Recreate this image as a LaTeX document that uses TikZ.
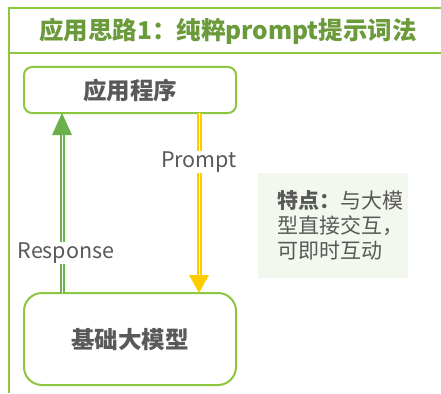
\documentclass[tikz,border=0pt]{standalone}
\usepackage{fontspec}
\setmainfont{Noto Sans CJK SC}
\usetikzlibrary{arrows.meta}
\definecolor{tgreen}{HTML}{6A9A3A}
\definecolor{bgreen}{HTML}{8DC63F}
\definecolor{agreen}{HTML}{6AB04C}
\definecolor{ayellow}{HTML}{FFCC00}
\definecolor{tgray}{HTML}{595959}
\definecolor{fgreen}{HTML}{F3F8EE}
\tikzset{
  stepbox/.style={draw=bgreen, line width=2pt, rounded corners=8pt, fill=white},
  boxtext/.style={text=tgray, font=\bfseries\fontsize{23.5}{26}\selectfont},
  lbl/.style={text=tgray, fill=white, font=\fontsize{21.5}{23}\selectfont, inner sep=1pt},
}
\begin{document}
\begin{tikzpicture}[x=1pt,y=-1pt]
\useasboundingbox (0,0) rectangle (441,393);
\begin{scope}
\clip (0,0) rectangle (441,393);
\draw[draw=bgreen, line width=2pt, fill=white] (9,8) rectangle (450,53);
\end{scope}
\draw[draw=bgreen, line width=1.5pt] (9,53) -- (9,393);
\node[text=tgreen, font=\bfseries\fontsize{24.5}{27}\selectfont] (title) at (228,31) {应用思路1：纯粹prompt提示词法};
% boxes
\draw[stepbox] (24,67) rectangle (236,113);
\node[boxtext] (app) at (130,91) {应用程序};
\draw[stepbox, rounded corners=18pt] (24,293) rectangle (236,385);
\node[boxtext] (model) at (130,340) {基础大模型};
\coordinate (gtop) at (62,113);
\coordinate (gbot) at (62,293);
\coordinate (ytop) at (199,113);
\coordinate (ybot) at (199,293);
% green arrow
\draw[agreen, line width=2pt, double=white, double distance=1pt] (gbot) -- (62,132);
\fill[agreen] (gtop) -- (52,135) -- (72,135) -- cycle;
% yellow arrow
\draw[ayellow, line width=2pt, double=white, double distance=1pt] (ytop) -- (199,277);
\fill[ayellow] (ybot) -- (189,275) -- (209,275) -- cycle;
\node[lbl] (resp) at (66,253) {Response};
\node[lbl] (prompt) at (199,162) {Prompt};
% feature box
\fill[fgreen] (258,173) rectangle (408,278);
\node[text=tgray, font=\fontsize{21}{25}\selectfont, align=left, anchor=north west, inner sep=0pt] (feat) at (277,190) {\textbf{特点：}与大模\\型直接交互，\\可即时互动};
\end{tikzpicture}
\end{document}
